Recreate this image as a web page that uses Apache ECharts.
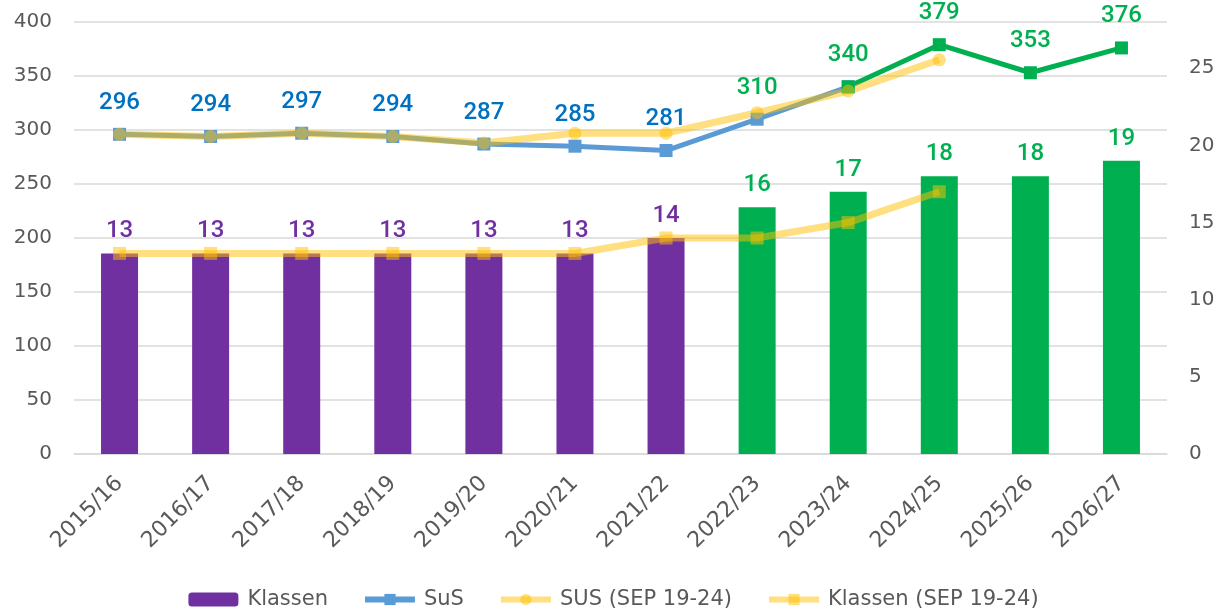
<!DOCTYPE html>
<html lang="de">
<head>
  <meta charset="UTF-8">
  <title>Klassen und SuS</title>
  <script src="https://cdn.jsdelivr.net/npm/echarts@6/dist/echarts.min.js"></script>
  <style>
    body { margin: 0; background: #fff; }
    #chart { width: 1227px; height: 610px; }
  </style>
</head>
<body>
  <div id="chart"></div>
  <script>
    // Schuljahre
    const years = ['2015/16', '2016/17', '2017/18', '2018/19', '2019/20', '2020/21',
                   '2021/22', '2022/23', '2023/24', '2024/25', '2025/26', '2026/27'];
    // Klassen (rechte Achse)
    const klassen = [13, 13, 13, 13, 13, 13, 14, 16, 17, 18, 18, 19];
    // SuS bis 2023/24 (blau) und Prognose ab 2023/24 (grün)
    const sus = [296, 294, 297, 294, 287, 285, 281, 310, 340, null, null, null];
    const susPrognose = [null, null, null, null, null, null, null, null, 340, 379, 353, 376];
    // SEP 19-24
    const susSep = [296, 294, 297, 294, 288, 297, 297, 316, 336, 365, null, null];
    const klassenSep = [13, 13, 13, 13, 13, 13, 14, 14, 15, 17, null, null];
    // ab diesem Index grün
    const greenFrom = 7;
    const leftTicks = { min: 0, max: 400, interval: 50 };
    const rightTicks = { min: 0, max: 28, interval: 5 };

    const PURPLE = '#7030A0', GREEN = '#00B050', BLUE = '#5B9BD5',
          BLUE_TXT = '#0070C0', YELLOW = '#FFC000', GREY = '#595959';
    const FONT = 'Roboto';
    const AXIS_FONT = 'DejaVu Sans';

    const valueLabel = {
      show: true, position: 'top', distance: 13,
      fontFamily: FONT, fontSize: 24, fontWeight: 500
    };

    const chart = echarts.init(document.getElementById('chart'));

    chart.setOption({
      animation: false,
      grid: { left: 74, right: 60, top: 22, bottom: 156 },
      legend: {
        data: ['Klassen', 'SuS', 'SUS (SEP 19-24)', 'Klassen (SEP 19-24)'],
        top: 584, left: 'center',
        itemWidth: 50, itemHeight: 14, itemGap: 34,
        lineStyle: { width: 6 },
        textStyle: { color: GREY, fontFamily: AXIS_FONT, fontSize: 21, padding: [0, 0, 0, 4] }
      },
      xAxis: {
        type: 'category',
        data: years,
        axisTick: { show: false },
        axisLine: { lineStyle: { color: '#D9D9D9', width: 1.5 } },
        axisLabel: { rotate: 45, color: GREY, fontFamily: AXIS_FONT, fontSize: 22, margin: 26, interval: 0 }
      },
      yAxis: [
        {
          type: 'value', ...leftTicks,
          axisLabel: { color: GREY, fontFamily: AXIS_FONT, fontSize: 20, margin: 22 },
          splitLine: { lineStyle: { color: '#D9D9D9', width: 1.5 } }
        },
        {
          type: 'value', ...rightTicks,
          splitLine: { show: false },
          axisLabel: { color: GREY, fontFamily: AXIS_FONT, fontSize: 20, margin: 22, showMaxLabel: false }
        }
      ],
      series: [
        {
          name: 'Klassen', type: 'bar', yAxisIndex: 1, barWidth: 37,
          itemStyle: { color: PURPLE },
          label: { ...valueLabel, distance: 10 },
          data: klassen.map((v, i) => ({
            value: v,
            itemStyle: { color: i >= greenFrom ? GREEN : PURPLE },
            label: { color: i >= greenFrom ? GREEN : PURPLE }
          }))
        },
        {
          name: 'SuS', type: 'line', yAxisIndex: 0,
          symbol: 'rect', symbolSize: 13,
          itemStyle: { color: BLUE },
          lineStyle: { color: BLUE, width: 5 },
          label: valueLabel,
          data: sus.map((v, i) => ({
            value: v,
            label: { show: i < 8 && v != null, color: i >= greenFrom ? GREEN : BLUE_TXT }
          }))
        },
        {
          name: 'SuS Prognose', type: 'line', yAxisIndex: 0,
          symbol: 'rect', symbolSize: 13,
          itemStyle: { color: GREEN },
          lineStyle: { color: GREEN, width: 5 },
          label: { ...valueLabel, color: GREEN },
          data: susPrognose
        },
        {
          name: 'SUS (SEP 19-24)', type: 'line', yAxisIndex: 0,
          symbol: 'circle', symbolSize: 13,
          itemStyle: { color: YELLOW, opacity: 0.5 },
          lineStyle: { color: YELLOW, width: 7, opacity: 0.5 },
          data: susSep
        },
        {
          name: 'Klassen (SEP 19-24)', type: 'line', yAxisIndex: 1,
          symbol: 'rect', symbolSize: 13,
          itemStyle: { color: YELLOW, opacity: 0.5 },
          lineStyle: { color: YELLOW, width: 7, opacity: 0.5 },
          data: klassenSep
        }
      ]
    });
  </script>
</body>
</html>
